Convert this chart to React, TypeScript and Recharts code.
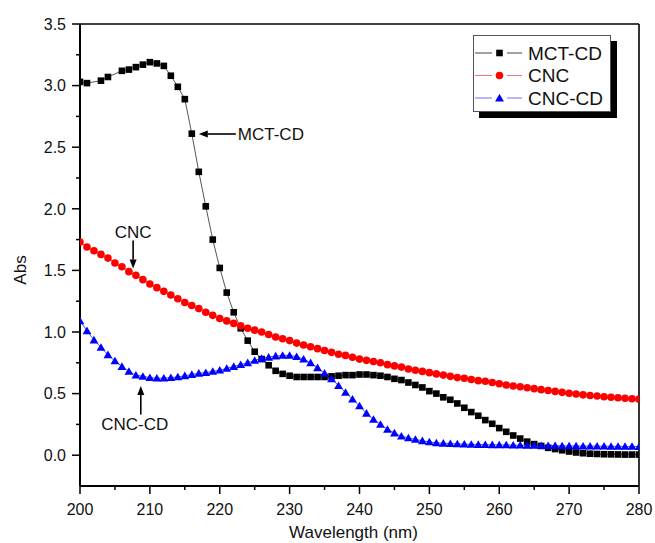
import React from 'react';
import { LineChart, Line, XAxis, YAxis, ReferenceLine, Legend } from 'recharts';

const FONT = '"Liberation Sans", Arial, Helvetica, sans-serif';

// Wavelength grid (nm)
const wavelengths = [
  200, 201, 202, 203, 204, 205, 206, 207, 208, 209, 210, 211, 212, 213, 214, 215, 216, 217, 218, 219,
  220, 221, 222, 223, 224, 225, 226, 227, 228, 229, 230, 231, 232, 233, 234, 235, 236, 237, 238, 239,
  240, 241, 242, 243, 244, 245, 246, 247, 248, 249, 250, 251, 252, 253, 254, 255, 256, 257, 258, 259,
  260, 261, 262, 263, 264, 265, 266, 267, 268, 269, 270, 271, 272, 273, 274, 275, 276, 277, 278, 279, 280,
];

// MCT-CD was recorded without the 202 and 205 nm points
const mctWavelengths = [
  200, 201, 203, 204, 206, 207, 208, 209, 210, 211, 212, 213, 214, 215, 216, 217, 218, 219,
  220, 221, 222, 223, 224, 225, 226, 227, 228, 229, 230, 231, 232, 233, 234, 235, 236, 237, 238, 239,
  240, 241, 242, 243, 244, 245, 246, 247, 248, 249, 250, 251, 252, 253, 254, 255, 256, 257, 258, 259,
  260, 261, 262, 263, 264, 265, 266, 267, 268, 269, 270, 271, 272, 273, 274, 275, 276, 277, 278, 279, 280,
];

const mctCd = [
  3.03, 3.02, 3.04, 3.07, 3.12, 3.13, 3.15, 3.17, 3.19, 3.18, 3.16, 3.08, 2.99, 2.89, 2.61, 2.30, 2.02, 1.75,
  1.52, 1.32, 1.16, 1.03, 0.93, 0.84, 0.78, 0.73, 0.685, 0.66, 0.645, 0.635, 0.635, 0.635, 0.635, 0.635, 0.64, 0.645, 0.65, 0.65,
  0.655, 0.655, 0.65, 0.645, 0.635, 0.62, 0.61, 0.59, 0.57, 0.55, 0.52, 0.50, 0.47, 0.45, 0.42, 0.385, 0.35, 0.32, 0.285, 0.255,
  0.22, 0.19, 0.16, 0.135, 0.11, 0.09, 0.075, 0.06, 0.05, 0.04, 0.03, 0.022, 0.016, 0.012, 0.01, 0.008, 0.007, 0.006, 0.005, 0.005, 0.005,
];

const cnc = [
  1.73, 1.69, 1.66, 1.63, 1.60, 1.56, 1.53, 1.49, 1.46, 1.425, 1.39, 1.36, 1.33, 1.30, 1.27, 1.24, 1.215, 1.19, 1.16, 1.135,
  1.11, 1.09, 1.07, 1.05, 1.03, 1.015, 1.00, 0.98, 0.96, 0.945, 0.93, 0.91, 0.895, 0.88, 0.865, 0.85, 0.835, 0.82, 0.81, 0.795,
  0.78, 0.77, 0.76, 0.75, 0.735, 0.725, 0.715, 0.70, 0.69, 0.68, 0.67, 0.66, 0.65, 0.64, 0.63, 0.625, 0.615, 0.605, 0.60, 0.59,
  0.58, 0.57, 0.562, 0.555, 0.547, 0.54, 0.532, 0.525, 0.518, 0.51, 0.503, 0.497, 0.49, 0.485, 0.48, 0.475, 0.47, 0.466, 0.462, 0.458, 0.455,
];

const cncCd = [
  1.09, 1.01, 0.935, 0.875, 0.815, 0.765, 0.72, 0.68, 0.65, 0.64, 0.63, 0.625, 0.625, 0.63, 0.635, 0.645, 0.655, 0.665, 0.67, 0.68,
  0.69, 0.705, 0.72, 0.735, 0.75, 0.77, 0.785, 0.795, 0.805, 0.81, 0.81, 0.80, 0.78, 0.75, 0.71, 0.665, 0.62, 0.565, 0.51, 0.455,
  0.40, 0.34, 0.29, 0.25, 0.21, 0.18, 0.155, 0.14, 0.128, 0.117, 0.108, 0.10, 0.097, 0.094, 0.092, 0.09, 0.088, 0.087, 0.086, 0.085,
  0.084, 0.083, 0.082, 0.081, 0.08, 0.079, 0.078, 0.077, 0.077, 0.076, 0.075, 0.075, 0.074, 0.074, 0.073, 0.073, 0.072, 0.072, 0.071, 0.071, 0.07,
];

const xTicks = [200, 205, 210, 215, 220, 225, 230, 235, 240, 245, 250, 255, 260, 265, 270, 275, 280];
const yTicks = [0, 0.25, 0.5, 0.75, 1, 1.25, 1.5, 1.75, 2, 2.25, 2.5, 2.75, 3, 3.25, 3.5];

const seriesNames = ['MCT-CD', 'CNC', 'CNC-CD'];

// annotations: label, arrow tail and arrow tip in data coordinates
const annotations = [
  { text: 'MCT-CD', tail: { x: 222.3, y: 2.607 }, tip: { x: 217.0, y: 2.607 }, place: 'right' },
  { text: 'CNC', tail: { x: 207.6, y: 1.742 }, tip: { x: 207.6, y: 1.516 }, place: 'above' },
  { text: 'CNC-CD', tail: { x: 208.7, y: 0.33 }, tip: { x: 208.7, y: 0.562 }, place: 'below' },
];

const mctData = mctWavelengths.map((x, i) => ({ x, y: mctCd[i] }));
const cncData = wavelengths.map((x, i) => ({ x, y: cnc[i] }));
const cncCdData = wavelengths.map((x, i) => ({ x, y: cncCd[i] }));

const SquareDot = (p: any) => {
  if (p.cx == null || p.cy == null) return <g key={p.key} />;
  return <rect key={p.key} x={p.cx - 3.3} y={p.cy - 3.3} width={6.6} height={6.6} fill="#000" />;
};
const CircleDot = (p: any) => {
  if (p.cx == null || p.cy == null) return <g key={p.key} />;
  return <circle key={p.key} cx={p.cx} cy={p.cy} r={3.8} fill="#ff0000" />;
};
const TriDot = (p: any) => {
  if (p.cx == null || p.cy == null) return <g key={p.key} />;
  const { cx, cy } = p;
  return (
    <polygon
      key={p.key}
      points={`${cx},${cy - 4.2} ${cx + 4.4},${cy + 3.4} ${cx - 4.4},${cy + 3.4}`}
      fill="#0000ff"
    />
  );
};

const YTick = (props: any) => {
  const { x, y, payload } = props;
  const v = payload.value;
  const major = Math.abs(v * 2 - Math.round(v * 2)) < 1e-6;
  return (
    <g>
      <line x1={x - (major ? 8 : 4)} x2={x} y1={y} y2={y} stroke="#000" strokeWidth={1.5} />
      {major && (
        <text x={x - 14} y={y} dy="0.36em" textAnchor="end" fontSize={16} fontFamily={FONT} fill="#111">
          {v.toFixed(1)}
        </text>
      )}
    </g>
  );
};

const XTick = (props: any) => {
  const { x, y, payload } = props;
  const v = payload.value;
  const major = v % 10 === 0;
  return (
    <g>
      <line x1={x} x2={x} y1={y} y2={y + (major ? 8 : 4)} stroke="#000" strokeWidth={1.5} />
      {major && (
        <text x={x} y={y + 23} dy="0.36em" textAnchor="middle" fontSize={16} fontFamily={FONT} fill="#111">
          {v}
        </text>
      )}
    </g>
  );
};

const XTitle = (props: any) => {
  const vb = props.viewBox || { x: 80, y: 486, width: 559, height: 57 };
  return (
    <text x={vb.x + vb.width / 2 - 6} y={vb.y + 46} dy="0.36em" textAnchor="middle" fontSize={17} fontFamily={FONT} fill="#111">
      Wavelength (nm)
    </text>
  );
};

const YTitle = (props: any) => {
  const vb = props.viewBox || { x: 0, y: 24, width: 80, height: 462 };
  const cx = vb.x + 20;
  const cy = vb.y + vb.height / 2 + 15;
  return (
    <text x={cx} y={cy} dy="0.36em" textAnchor="middle" fontSize={17} fontFamily={FONT} fill="#111" transform={`rotate(-90, ${cx}, ${cy})`}>
      Abs
    </text>
  );
};

const makeArrow = (text: string, place: string) => (p: any) => {
  const { x1, y1, x2, y2 } = p;
  if ([x1, y1, x2, y2].some((v) => v == null || isNaN(v))) return <g />;
  const dx = x2 - x1;
  const dy = y2 - y1;
  const len = Math.sqrt(dx * dx + dy * dy) || 1;
  const ux = dx / len;
  const uy = dy / len;
  const head = 9;
  const hw = 3.5;
  const bx = x2 - ux * head;
  const by = y2 - uy * head;
  const px = -uy;
  const py = ux;
  let tx = x1;
  let ty = y1;
  let anchor: any = 'middle';
  if (place === 'right') {
    tx = x1 + 2;
    anchor = 'start';
  } else if (place === 'above') {
    ty = y1 - 9;
  } else {
    tx = x1 - 6;
    ty = y1 + 9;
  }
  return (
    <g>
      <line x1={x1} y1={y1} x2={bx} y2={by} stroke="#000" strokeWidth={1.6} />
      <polygon points={`${x2},${y2} ${bx + px * hw},${by + py * hw} ${bx - px * hw},${by - py * hw}`} fill="#000" />
      <text x={tx} y={ty} dy="0.36em" textAnchor={anchor} fontSize={17} fontFamily={FONT} fill="#111">
        {text}
      </text>
    </g>
  );
};

const LegendBox = () => {
  const rows = [
    { name: seriesNames[0], line: '#444', kind: 'square' },
    { name: seriesNames[1], line: '#ff7070', kind: 'circle' },
    { name: seriesNames[2], line: '#7070ff', kind: 'tri' },
  ];
  const ys = [17, 39.5, 62];
  return (
    <div
      style={{
        width: 138,
        height: 77,
        boxSizing: 'border-box',
        border: '1px solid #555',
        background: '#fff',
        boxShadow: '6px 6px 0 #000',
      }}
    >
      <svg width={136} height={75} style={{ display: 'block' }}>
        {rows.map((r, i) => {
          const y = ys[i];
          const mx = 25.5;
          return (
            <g key={r.name}>
              <line x1={1} x2={18} y1={y} y2={y} stroke={r.line} strokeWidth={1} />
              <line x1={33} x2={48} y1={y} y2={y} stroke={r.line} strokeWidth={1} />
              {r.kind === 'square' && <rect x={mx - 3.3} y={y - 3.3} width={6.6} height={6.6} fill="#000" />}
              {r.kind === 'circle' && <circle cx={mx} cy={y} r={3.8} fill="#ff0000" />}
              {r.kind === 'tri' && (
                <polygon points={`${mx},${y - 4.2} ${mx + 4.4},${y + 3.4} ${mx - 4.4},${y + 3.4}`} fill="#0000ff" />
              )}
              <text x={54} y={y} dy="0.36em" fontSize={19} fontFamily={FONT} fill="#111">
                {r.name}
              </text>
            </g>
          );
        })}
      </svg>
    </div>
  );
};

export default function App() {
  return (
    <div style={{ width: 655, height: 543 }}>
      <style>{'html,body{margin:0;padding:0;overflow:hidden;}'}</style>
      <LineChart width={655} height={543} margin={{ top: 24, right: 16, left: 0, bottom: 0 }}>
        <XAxis
          type="number"
          dataKey="x"
          domain={[200, 280]}
          ticks={xTicks}
          interval={0}
          allowDataOverflow
          height={57}
          tickSize={0}
          tickMargin={0}
          tickLine={false}
          tick={<XTick />}
          axisLine={{ stroke: '#000', strokeWidth: 2 }}
          label={{ content: XTitle } as any}
        />
        <YAxis
          type="number"
          dataKey="y"
          domain={[-0.25, 3.5]}
          ticks={yTicks}
          interval={0}
          allowDataOverflow
          width={80}
          tickSize={0}
          tickMargin={0}
          tickLine={false}
          tick={<YTick />}
          axisLine={{ stroke: '#000', strokeWidth: 2 }}
          label={{ content: YTitle } as any}
        />
        <ReferenceLine y={3.5} stroke="#000" strokeWidth={1.6} />
        <ReferenceLine x={280} stroke="#000" strokeWidth={1.6} />
        <Line
          data={mctData}
          dataKey="y"
          name={seriesNames[0]}
          stroke="#555"
          strokeWidth={1}
          dot={SquareDot}
          activeDot={false}
          isAnimationActive={false}
        />
        <Line
          data={cncData}
          dataKey="y"
          name={seriesNames[1]}
          stroke="#ff5050"
          strokeWidth={1}
          dot={CircleDot}
          activeDot={false}
          isAnimationActive={false}
        />
        <Line
          data={cncCdData}
          dataKey="y"
          name={seriesNames[2]}
          stroke="#5050ff"
          strokeWidth={1}
          dot={TriDot}
          activeDot={false}
          isAnimationActive={false}
        />
        {annotations.map((a) => (
          <ReferenceLine
            key={a.text}
            segment={[a.tail, a.tip]}
            shape={makeArrow(a.text, a.place)}
          />
        ))}
        <Legend
          layout="vertical"
          align="center"
          verticalAlign="middle"
          content={<LegendBox />}
          wrapperStyle={{ position: 'absolute', left: 473, top: 35, width: 144, height: 83 }}
        />
      </LineChart>
    </div>
  );
}
